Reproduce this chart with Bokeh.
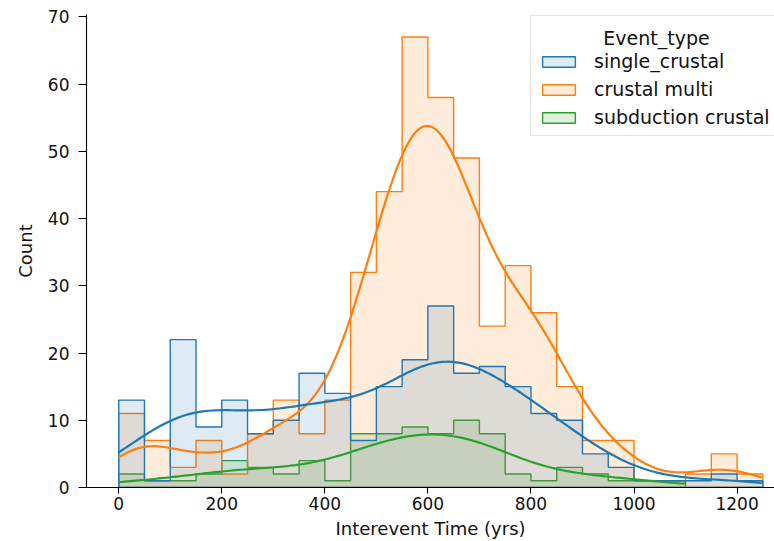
import numpy as np
from bokeh.plotting import figure
from bokeh.models import Range1d, FixedTicker, Legend, LegendItem, Label
from bokeh.embed import file_html
from bokeh.resources import INLINE

# ---- data ----
bin_edges = [0, 50, 100, 150, 200, 250, 300, 350, 400, 450, 500, 550, 600,
             650, 700, 750, 800, 850, 900, 950, 1000, 1050, 1100, 1150, 1200, 1250]
series_names = ["single_crustal", "crustal multi", "subduction crustal"]
single_crustal = [13, 1, 22, 9, 13, 8, 10, 17, 14, 7, 15, 19, 27, 17, 18, 15,
                  11, 10, 5, 3, 1, 1, 1, 2, 1]
crustal_multi = [11, 7, 3, 7, 2, 8, 13, 8, 13, 32, 44, 67, 58, 49, 24, 33,
                 26, 15, 7, 7, 1, 1, 2, 5, 2]
subduction_crustal = [2, 1, 1, 2, 4, 3, 2, 4, 1, 8, 8, 9, 8, 10, 8, 2,
                      1, 3, 2, 1, 1, 1, 0, 0, 0]
data_min = [0, 0, 0]          # observed range of each series (KDE cut=0)
data_max = [1248, 1248, 1100]
x_ticks = [0, 200, 400, 600, 800, 1000, 1200]
y_ticks = [0, 10, 20, 30, 40, 50, 60, 70]
colors = ["#1f77b4", "#ff7f0e", "#2ca02c"]

counts_all = [single_crustal, crustal_multi, subduction_crustal]
edges = np.array(bin_edges, dtype=float)
centers = (edges[:-1] + edges[1:]) / 2.0
bw_bin = edges[1] - edges[0]


def kde_curve(counts, lo, hi):
    w = np.asarray(counts, dtype=float)
    n = w.sum()
    mean = (w * centers).sum() / n
    sd = np.sqrt((w * (centers - mean) ** 2).sum() / (n - 1))
    bw = sd * n ** (-0.2)  # Scott's rule
    xs = np.linspace(lo, hi, 200)
    dens = (w[None, :] * np.exp(-0.5 * ((xs[:, None] - centers[None, :]) / bw) ** 2)).sum(axis=1)
    dens = dens / (n * bw * np.sqrt(2 * np.pi))
    return xs, dens * n * bw_bin


FONT = "DejaVu Sans"
x_pad = 0.05 * (edges[-1] - edges[0])
y_top = max(max(c) for c in counts_all) * 1.05

p = figure(width=774, height=541, output_backend="svg", toolbar_location=None,
           x_range=Range1d(edges[0] - x_pad, 1272.6), y_range=Range1d(0, y_top),
           min_border_left=86, min_border_right=0, min_border_top=14, min_border_bottom=53)
p.outline_line_color = None
p.grid.visible = False
p.background_fill_color = "white"

# axes
p.xaxis.ticker = FixedTicker(ticks=x_ticks)
p.yaxis.ticker = FixedTicker(ticks=y_ticks)
p.xaxis.axis_label = "Interevent Time (yrs)"
p.yaxis.axis_label = "Count"
for ax in (p.xaxis, p.yaxis):
    ax.axis_line_color = "black"
    ax.axis_line_width = 1.1
    ax.major_tick_line_color = "black"
    ax.major_tick_line_width = 1.1
    ax.major_tick_in = 0
    ax.minor_tick_line_color = None
    ax.major_label_text_font = FONT
    ax.major_label_text_font_size = "17px"
    ax.major_label_text_color = "#111111"
    ax.axis_label_text_font = FONT
    ax.axis_label_text_font_size = "18px"
    ax.axis_label_text_font_style = "normal"
    ax.axis_label_text_color = "#111111"
p.xaxis.major_tick_out = 6
p.yaxis.major_tick_out = 8
p.xaxis.major_label_standoff = 3
p.yaxis.major_label_standoff = 9
p.xaxis.axis_label_standoff = 5
p.yaxis.axis_label_standoff = 9

# histograms (step, filled), drawn last hue first
patch_renderers = {}
for i in [2, 1, 0]:
    cnt = np.asarray(counts_all[i], dtype=float)
    xs = np.repeat(edges, 2)
    ys = np.concatenate([[0.0], np.repeat(cnt, 2), [0.0]])
    r = p.patch(xs, ys, fill_color=colors[i], fill_alpha=0.15,
                line_color=colors[i], line_width=1.4)
    patch_renderers[i] = r

# KDE lines
for i in [2, 1, 0]:
    kx, ky = kde_curve(counts_all[i], data_min[i], data_max[i])
    p.line(kx, ky, line_color=colors[i], line_width=2.2)

# centred legend title (legend's own title kept invisible to reserve its space)
title_lbl = Label(x=570, y=450, x_units="screen", y_units="screen", text="Event_type",
                  text_align="center", text_baseline="middle",
                  text_font=FONT, text_font_size="19px", text_color="#111111")
p.add_layout(title_lbl)

items = [LegendItem(label=series_names[i], renderers=[patch_renderers[i]]) for i in range(3)]
legend = Legend(items=items, location=(444, 351),
                title="Event_type", title_text_alpha=0.0,
                title_text_font=FONT, title_text_font_size="19px", title_standoff=5,
                label_text_font=FONT, label_text_font_size="19px", label_text_color="#111111",
                glyph_width=41, glyph_height=13, label_standoff=15, label_height=21,
                spacing=6, padding=7, margin=0,
                border_line_color="#cccccc", border_line_width=1,
                background_fill_alpha=0.0)
p.add_layout(legend)

open("out.html", "w").write(file_html(p, INLINE))
